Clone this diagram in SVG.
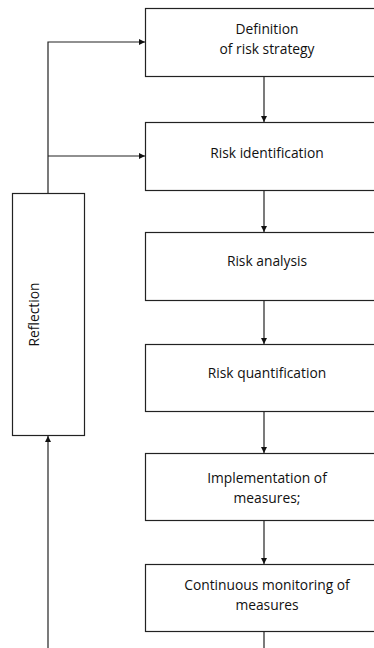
<svg xmlns="http://www.w3.org/2000/svg" width="374" height="648" viewBox="0 0 374 648">
<style>
.box{fill:#fff;stroke:#222;stroke-width:1.2}
.t{font-family:"Open Sans",sans-serif;font-size:13.8px;fill:#111;text-anchor:middle}
.c{stroke:#222;stroke-width:1.2;fill:none}
</style>
<defs>
<marker id="ah" viewBox="0 0 8 8" refX="8" refY="4" markerWidth="6" markerHeight="6" markerUnits="userSpaceOnUse" orient="auto">
<path d="M0,0 L8,4 L0,8 Z" fill="#111"/>
</marker>
</defs>
<g id="connectors">
<line class="c" x1="264" y1="76" x2="264" y2="122" marker-end="url(#ah)"/>
<line class="c" x1="264" y1="190" x2="264" y2="232" marker-end="url(#ah)"/>
<line class="c" x1="264" y1="301" x2="264" y2="344" marker-end="url(#ah)"/>
<line class="c" x1="264" y1="412" x2="264" y2="453" marker-end="url(#ah)"/>
<line class="c" x1="264" y1="521" x2="264" y2="564" marker-end="url(#ah)"/>
<line class="c" x1="264" y1="632" x2="264" y2="648"/>
<path class="c" d="M48,193 V42 H145" marker-end="url(#ah)"/>
<line class="c" x1="48" y1="156" x2="145" y2="156" marker-end="url(#ah)"/>
<line class="c" x1="48" y1="648" x2="48" y2="436" marker-end="url(#ah)"/>
</g>
<g id="n1"><rect class="box" x="145.5" y="8.5" width="240" height="68"/><text class="t" x="267" y="34">Definition</text><text class="t" x="267" y="53.5">of risk strategy</text></g>
<g id="n2"><rect class="box" x="145.5" y="122.5" width="240" height="68"/><text class="t" x="267" y="157.5">Risk identification</text></g>
<g id="n3"><rect class="box" x="145.5" y="232.5" width="240" height="68"/><text class="t" x="267" y="266">Risk analysis</text></g>
<g id="n4"><rect class="box" x="145.5" y="344.5" width="240" height="67"/><text class="t" x="267" y="378">Risk quantification</text></g>
<g id="n5"><rect class="box" x="145.5" y="453.5" width="240" height="67"/><text class="t" x="267" y="483">Implementation of</text><text class="t" x="267" y="503">measures;</text></g>
<g id="n6"><rect class="box" x="145.5" y="564.5" width="240" height="67"/><text class="t" x="267" y="590">Continuous monitoring of</text><text class="t" x="267" y="610">measures</text></g>
<g id="reflection"><rect class="box" x="12.5" y="193.5" width="72" height="242"/><text class="t" transform="translate(39,314.5) rotate(-90)">Reflection</text></g>
</svg>
